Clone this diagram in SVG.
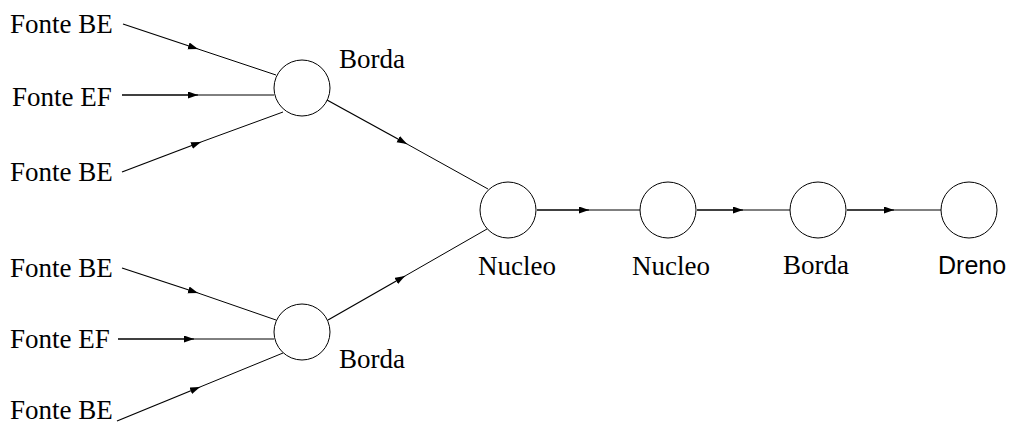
<svg xmlns="http://www.w3.org/2000/svg" width="1012" height="423" viewBox="0 0 1012 423">
  <style>
    .node { fill: #fff; stroke: #000; stroke-width: 1; }
    .lbl { font-family: "Liberation Serif", "Times New Roman", serif; font-size: 27px; fill: #000; }
    .lbl-sans { font-family: "Liberation Sans", Arial, sans-serif; font-size: 25px; fill: #000; }
    .lead { stroke: #000; stroke-width: 1.3; fill: none; }
    .tail { stroke: #000; stroke-width: 1; fill: none; }
  </style>
  <defs>
    <marker id="arrow" markerUnits="userSpaceOnUse" markerWidth="11" markerHeight="8" refX="10" refY="3.5" orient="auto">
      <path d="M0,0 L10,3.5 L0,7 z" fill="#000"/>
    </marker>
  </defs>
  <rect width="1012" height="423" fill="#fff"/>

  <!-- connectors: heavier lead segment ending in an arrowhead, thin tail to the target -->
  <g id="connectors">
    <line class="lead" x1="123" y1="24" x2="198" y2="49" marker-end="url(#arrow)"/>
    <line class="tail" x1="198" y1="49" x2="276" y2="75"/>
    <line class="lead" x1="122" y1="95" x2="198" y2="95" marker-end="url(#arrow)"/>
    <line class="tail" x1="198" y1="95" x2="274" y2="95"/>
    <line class="lead" x1="122" y1="172" x2="201" y2="142" marker-end="url(#arrow)"/>
    <line class="tail" x1="201" y1="142" x2="283" y2="112"/>

    <line class="lead" x1="122" y1="268" x2="198" y2="293" marker-end="url(#arrow)"/>
    <line class="tail" x1="198" y1="293" x2="276" y2="320"/>
    <line class="lead" x1="118" y1="339" x2="194" y2="339" marker-end="url(#arrow)"/>
    <line class="tail" x1="194" y1="339" x2="274" y2="339"/>
    <line class="lead" x1="117" y1="421" x2="200" y2="387" marker-end="url(#arrow)"/>
    <line class="tail" x1="200" y1="387" x2="283" y2="353"/>

    <line class="lead" x1="327" y1="100" x2="407" y2="144" marker-end="url(#arrow)"/>
    <line class="tail" x1="407" y1="144" x2="488" y2="189"/>
    <line class="lead" x1="328" y1="320" x2="405" y2="276" marker-end="url(#arrow)"/>
    <line class="tail" x1="405" y1="276" x2="487" y2="229"/>

    <line class="lead" x1="537" y1="210" x2="589" y2="210" marker-end="url(#arrow)"/>
    <line class="tail" x1="589" y1="210" x2="640" y2="210"/>
    <line class="lead" x1="697" y1="210" x2="743" y2="210" marker-end="url(#arrow)"/>
    <line class="tail" x1="743" y1="210" x2="790" y2="210"/>
    <line class="lead" x1="847" y1="210" x2="894" y2="210" marker-end="url(#arrow)"/>
    <line class="tail" x1="894" y1="210" x2="941" y2="210"/>
  </g>

  <!-- sources -->
  <g id="src-be-1"><text class="lbl" x="10" y="33">Fonte BE</text></g>
  <g id="src-ef-1"><text class="lbl" x="12" y="106">Fonte EF</text></g>
  <g id="src-be-2"><text class="lbl" x="10" y="181">Fonte BE</text></g>
  <g id="src-be-3"><text class="lbl" x="10" y="277">Fonte BE</text></g>
  <g id="src-ef-2"><text class="lbl" x="10" y="348">Fonte EF</text></g>
  <g id="src-be-4"><text class="lbl" x="10" y="419">Fonte BE</text></g>

  <!-- edge nodes -->
  <g id="borda-top">
    <circle class="node" cx="302" cy="88" r="28"/>
    <text class="lbl" x="339" y="68">Borda</text>
  </g>
  <g id="borda-bottom">
    <circle class="node" cx="302" cy="332" r="28"/>
    <text class="lbl" x="339" y="368">Borda</text>
  </g>

  <!-- core chain -->
  <g id="nucleo-1">
    <circle class="node" cx="508" cy="210" r="28"/>
    <text class="lbl" x="478" y="275">Nucleo</text>
  </g>
  <g id="nucleo-2">
    <circle class="node" cx="668" cy="210" r="28"/>
    <text class="lbl" x="632" y="275">Nucleo</text>
  </g>
  <g id="borda-out">
    <circle class="node" cx="818" cy="210" r="28"/>
    <text class="lbl" x="783" y="274">Borda</text>
  </g>
  <g id="dreno">
    <circle class="node" cx="969" cy="210" r="28"/>
    <text class="lbl-sans" x="938" y="274">Dreno</text>
  </g>
</svg>
